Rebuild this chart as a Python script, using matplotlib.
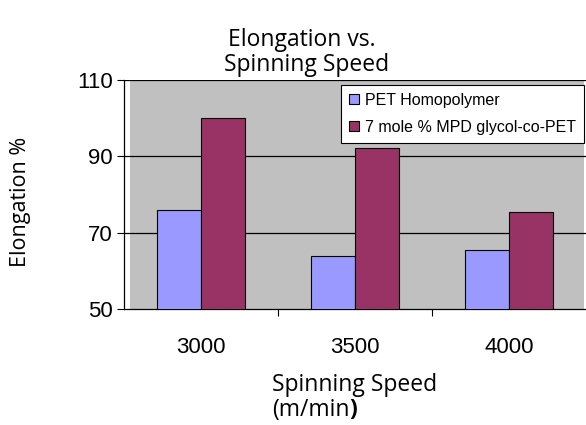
import matplotlib.pyplot as plt
import numpy as np

# data
speeds = ['3000', '3500', '4000']
pet_homo = [76, 64, 65.5]
mpd_copet = [100, 92.3, 75.5]
series_names = ['PET Homopolymer', '7 mole % MPD glycol-co-PET']
y_ticks = [50, 70, 90, 110]

fig = plt.figure(figsize=(5.86, 4.25), dpi=100)
ax = fig.add_axes([124/586, 1 - 309/425, (586 - 124)/586, (309 - 80)/425])

x = np.arange(len(speeds))
w = 0.287

# gray plot area (starts a little right of the axis line)
ax.axvspan(-0.46, 2.49, color='#C0C0C0', zorder=0, lw=0)

ax.bar(x - w/2, pet_homo, w, color='#9999FF', edgecolor='black', linewidth=0.8,
       label=series_names[0], zorder=3)
ax.bar(x + w/2, mpd_copet, w, color='#993366', edgecolor='black', linewidth=0.8,
       label=series_names[1], zorder=3)

ax.set_xlim(-0.5, 2.5)
ax.set_ylim(50, 110)
ax.set_yticks(y_ticks)
ax.set_yticklabels([str(v) for v in y_ticks], fontfamily='Liberation Sans', fontsize=16)
for v in y_ticks[1:]:
    ax.axhline(v, color='black', lw=0.9, zorder=1)

# category ticks at boundaries, labels at centres
ax.set_xticks([0.5, 1.5])
ax.set_xticklabels([])
ax.set_xticks(x, minor=True)
ax.set_xticklabels(speeds, minor=True, fontfamily='Liberation Sans', fontsize=16)
ax.tick_params(axis='x', which='minor', length=0, pad=20)
ax.tick_params(axis='x', which='major', length=5, direction='out')
ax.tick_params(axis='y', length=5, direction='out', pad=3)

for s in ['top', 'right']:
    ax.spines[s].set_visible(False)
ax.spines['left'].set_linewidth(0.9)
ax.spines['bottom'].set_linewidth(0.9)

leg = ax.legend(loc='upper right', bbox_to_anchor=(0.9957, 0.978), borderaxespad=0,
                prop={'family': 'Liberation Sans', 'size': 11.5},
                fancybox=False, framealpha=1, edgecolor='black', handlelength=0.6,
                handleheight=0.6, handletextpad=0.4, borderpad=0.5, labelspacing=0.75)
leg.get_frame().set_linewidth(0.8)

# titles and axis labels
lbl = dict(fontfamily='Open Sans', fontsize=16.5)
fig.text(302/586, 1 - 40/425, 'Elongation vs.', ha='center', va='center', **lbl)
fig.text(307/586, 1 - 65/425, 'Spinning Speed', ha='center', va='center', **lbl)
fig.text(21/586, 1 - 202/425, 'Elongation %', rotation=90, ha='center', va='center',
         fontfamily='Open Sans', fontsize=15.5)
fig.text(272/586, 1 - 385/425, 'Spinning Speed', ha='left', va='center', **lbl)
fig.text(272/586, 1 - 410/425, '(m/min', ha='left', va='center', **lbl)
t = fig.text(0, 0, ')', ha='left', va='center', fontfamily='Open Sans', fontsize=16.5, fontweight='bold')

fig.canvas.draw()
bb = fig.texts[-2].get_window_extent()
t.set_position((bb.x1 / fig.bbox.width, 1 - 410/425))

fig.savefig('out.png', dpi=100)
